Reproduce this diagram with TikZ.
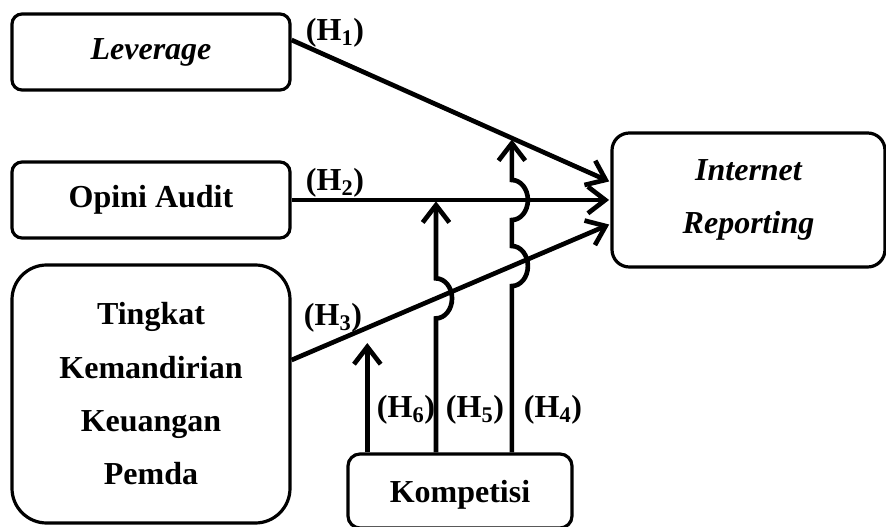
\documentclass[tikz,border=0pt]{standalone}
\usepackage{fontspec}
\setmainfont{Liberation Serif}
\usetikzlibrary{calc}
\usetikzlibrary{positioning}
\usetikzlibrary{arrows.meta}

\begin{document}
\begin{tikzpicture}[x=0.75pt,y=0.75pt,line width=2.4pt,
  every node/.style={font=\fontsize{24}{40}\selectfont\bfseries},
  var/.style={draw,rounded corners=7.5pt,align=center,inner sep=0pt,minimum width=208.5pt,minimum height=57pt},
  arr/.style={line width=3.5pt,shorten >=1pt,-{Straight Barb[length=13pt,width=20pt]}},
  hop/.style={start angle=-90,end angle=90,x radius=16,y radius=20},
  hyp/.style={inner sep=0pt}]
\useasboundingbox (0,0) rectangle (886,-527);
\node[var] (lev) at (151,-52) {\itshape Leverage};
\node[var] (oa) at (151,-200) {Opini Audit};
\node[var,minimum height=193.5pt,rounded corners=26pt] (tkkp) at (151,-394) {Tingkat\\Kemandirian\\Keuangan\\Pemda};
\node[var,minimum width=204.75pt,minimum height=100.5pt,rounded corners=13pt] (ir) at (748.5,-200) {\itshape Internet\\\itshape Reporting};
\node[var,minimum width=168pt,minimum height=55.5pt,rounded corners=9pt,text depth=-4pt] (komp) at (460,-491) {Kompetisi};
% main paths
\coordinate (h1s) at ($(lev.east)+(0,12)$);
\coordinate (h1e) at ($(ir.west)+(0,18)$);
\coordinate (h3s) at ($(tkkp.east)+(0,34)$);
\coordinate (h3e) at ($(ir.west)+(0,-24)$);
\draw[arr] (h1s) -- (h1e);
\draw[arr] (oa.east) -- (ir.west);
\draw[arr] (h3s) -- (h3e);
% crossing points
\path (h1s) -- coordinate[pos=0.691] (x41) (h1e);
\path (oa.east) -- coordinate[pos=0.453] (x52) coordinate[pos=0.691] (x42) (ir.west);
\path (h3s) -- coordinate[pos=0.2375] (x63) coordinate[pos=0.453] (x53) coordinate[pos=0.691] (x43) (h3e);
% moderation
\draw[arr] (komp.north -| x63) -- ($(x63)+(0,-14)$);
\draw[arr] (komp.north -| x53) -- ($(x53)+(0,-20)$) arc[hop] -- (x52);
\draw[arr] (komp.north -| x43) -- ($(x43)+(0,-20)$) arc[hop] -- ($(x42)+(0,-20)$) arc[hop] -- (x41);
% labels
\node[hyp] (l1) at (335,-33) {(H\textsubscript{1})};
\node[hyp] (l2) at (335,-183) {(H\textsubscript{2})};
\node[hyp] (l3) at (333,-318) {(H\textsubscript{3})};
\node[hyp] (l6) at (406,-410) {(H\textsubscript{6})};
\node[hyp] (l5) at (475,-410) {(H\textsubscript{5})};
\node[hyp] (l4) at (553,-410) {(H\textsubscript{4})};
\end{tikzpicture}
\end{document}
